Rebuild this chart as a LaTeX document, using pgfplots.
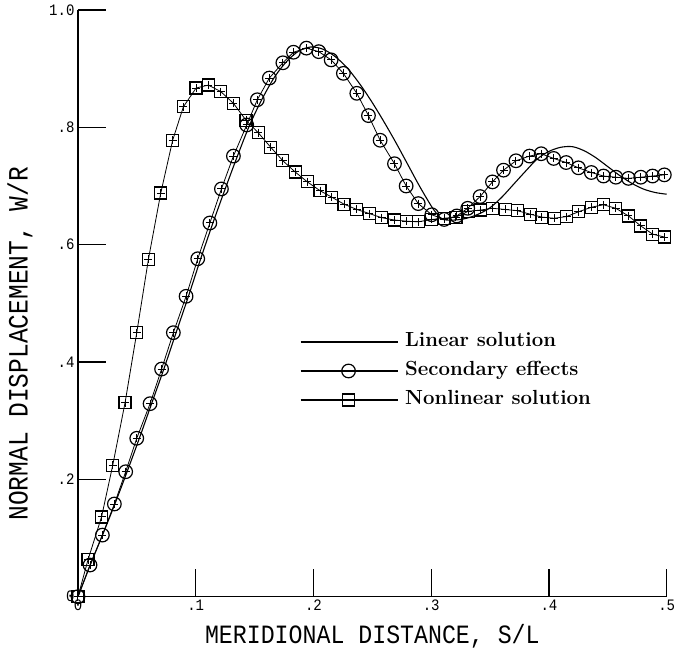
\documentclass[border=0pt]{standalone}
\usepackage{pgfplots}
\usepackage{pgfplotstable}
\pgfplotsset{compat=1.18}
\usepackage{fontspec}
\newfontfamily\plotfont[FakeStretch=0.88]{Liberation Mono}

% Secondary effects (circles)
\pgfplotstableread{
x y
0 0
0.0102 0.054
0.0207 0.105
0.0309 0.158
0.0405 0.213
0.0499 0.270
0.0612 0.329
0.0710 0.388
0.0810 0.450
0.0918 0.512
0.1017 0.576
0.1120 0.637
0.1218 0.695
0.1320 0.751
0.1433 0.804
0.1523 0.847
0.1625 0.884
0.1740 0.910
0.1830 0.928
0.1940 0.935
0.2045 0.929
0.2150 0.915
0.2254 0.892
0.2368 0.858
0.2467 0.820
0.2566 0.778
0.2688 0.738
0.2787 0.700
0.2890 0.670
0.3005 0.651
0.3110 0.643
0.3217 0.649
0.3310 0.662
0.3415 0.682
0.3520 0.707
0.3614 0.727
0.3720 0.743
0.3835 0.751
0.3934 0.755
0.4040 0.747
0.4146 0.740
0.4250 0.731
0.4360 0.723
0.4463 0.717
0.4568 0.715
0.4675 0.713
0.4780 0.715
0.4880 0.717
0.4980 0.719
}\secondary

% Nonlinear solution (squares)
\pgfplotstableread{
x y
0 0
0.0085 0.063
0.0200 0.136
0.0295 0.224
0.0400 0.331
0.0499 0.450
0.0598 0.575
0.0703 0.688
0.0804 0.778
0.0895 0.835
0.1003 0.867
0.1107 0.872
0.1212 0.861
0.1320 0.841
0.1427 0.812
0.1530 0.791
0.1637 0.766
0.1740 0.743
0.1844 0.724
0.1948 0.707
0.2056 0.692
0.2155 0.681
0.2260 0.669
0.2368 0.660
0.2475 0.653
0.2580 0.646
0.2687 0.642
0.2790 0.640
0.2890 0.639
0.3005 0.643
0.3110 0.645
0.3210 0.647
0.3316 0.657
0.3420 0.659
0.3520 0.662
0.3628 0.660
0.3730 0.658
0.3840 0.652
0.3940 0.647
0.4044 0.645
0.4150 0.648
0.4250 0.656
0.4364 0.664
0.4463 0.668
0.4568 0.662
0.4675 0.649
0.4780 0.632
0.4880 0.618
0.4980 0.613
}\nonlinear

% Linear solution (plain curve)
\pgfplotstableread{
x y
0 0
0.0104 0.054
0.0208 0.105
0.0313 0.158
0.0417 0.213
0.0521 0.270
0.0625 0.329
0.0729 0.388
0.0833 0.450
0.0938 0.512
0.1042 0.576
0.1146 0.637
0.1250 0.695
0.1354 0.751
0.1458 0.804
0.1563 0.848
0.1667 0.885
0.1771 0.912
0.1875 0.930
0.1979 0.937
0.2083 0.933
0.2188 0.920
0.2292 0.900
0.2400 0.872
0.2500 0.842
0.2600 0.809
0.2700 0.774
0.2800 0.737
0.2900 0.700
0.3000 0.666
0.3050 0.652
0.3100 0.643
0.3200 0.642
0.3300 0.645
0.3400 0.652
0.3500 0.663
0.3600 0.681
0.3700 0.703
0.3800 0.725
0.3900 0.746
0.4000 0.759
0.4100 0.766
0.4200 0.767
0.4300 0.760
0.4400 0.748
0.4500 0.733
0.4600 0.718
0.4700 0.705
0.4800 0.695
0.4900 0.689
0.5000 0.686
}\linear

\begin{document}
\begin{tikzpicture}
\path[use as bounding box] (-78bp,-57.3bp) rectangle (601bp,596.7bp);
\begin{axis}[
  scale only axis,
  width=588.7bp, height=586.7bp,
  xmin=0, xmax=0.5, ymin=0, ymax=1.0,
  axis line style={draw=none},
  xtick={0,0.1,0.2,0.3,0.4,0.5},
  ytick={0,0.2,0.4,0.6,0.8,1.0},
  xticklabels={0,.1,.2,.3,.4,.5},
  yticklabels={0,.2,.4,.6,.8,1.0},
  tick align=inside,
  xtick pos=bottom, ytick pos=left,
  major tick length=28bp,
  tick style={line width=1.2bp, black},
  ticklabel style={font=\fontsize{16}{18}\plotfont},
  xlabel={MERIDIONAL DISTANCE, S/L},
  ylabel={NORMAL DISPLACEMENT, W/R},
  xlabel style={at={(axis description cs:0.5,0)}, anchor=center, yshift=-40bp,
    font=\fontsize{26.5}{28}\plotfont},
  ylabel style={at={(axis description cs:-0.0985,0.431)}, anchor=center,
    font=\fontsize{28}{30}\plotfont},
  clip=false,
  legend style={draw=none, fill=none, at={(axis description cs:0.3771,0.3847)},
    anchor=west, inner sep=0pt, outer sep=0pt,
    font=\fontsize{20.5}{23}\selectfont\bfseries,
    row sep=11bp,
    nodes={inner sep=0pt, text height=14bp, text depth=4bp},
    /tikz/every odd column/.append style={column sep=7bp}},
  legend cell align=left,
  legend image code/.code={
    \draw[mark repeat=2,mark phase=2,#1] plot coordinates {(0bp,0bp) (48bp,0bp) (97bp,0bp)};},
]
% left and bottom axis lines
\draw[line width=1.1bp, black] (axis cs:0,1) -- (axis cs:0,0) -- (axis cs:0.5,0);

% solution curves
\addplot[black, line width=1.1bp, smooth, forget plot] table {\linear};
\addplot[black, line width=0.8bp, mark=o, mark size=6.8bp,
  mark options={line width=1.2bp, solid}, forget plot] table {\secondary};
\addplot[black, only marks, mark=+, mark size=4bp,
  mark options={line width=1bp}, forget plot] table {\secondary};
\addplot[black, line width=0.8bp, mark=square, mark size=6bp,
  mark options={line width=1.2bp, solid}, forget plot] table {\nonlinear};
\addplot[black, only marks, mark=+, mark size=4bp,
  mark options={line width=1bp}, forget plot] table {\nonlinear};

% key
\addlegendimage{black, line width=1.1bp, no marks}
\addlegendentry{Linear solution}
\addlegendimage{black, line width=1.1bp, mark=o, mark size=6.8bp,
  mark options={fill=white, line width=1.2bp}}
\addlegendentry{Secondary effects}
\addlegendimage{black, line width=1.1bp, mark=square, mark size=6bp,
  mark options={fill=white, line width=1.2bp}}
\addlegendentry{Nonlinear solution}
\end{axis}
\end{tikzpicture}
\end{document}
